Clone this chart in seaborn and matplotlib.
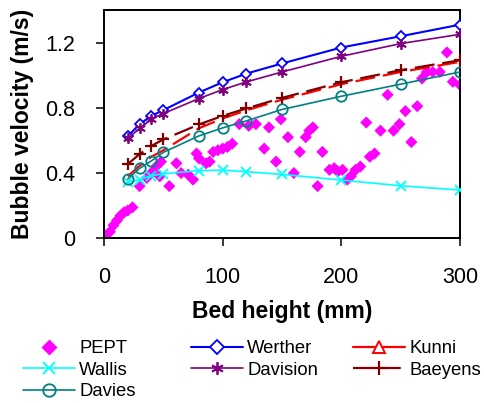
import matplotlib
matplotlib.use("Agg")
import matplotlib.pyplot as plt
from matplotlib.lines import Line2D
import seaborn as sns
import pandas as pd

# Bed heights (mm) at which the correlations are evaluated
heights = [20, 30, 40, 50, 80, 100, 120, 150, 200, 250, 300]

# Bubble rise velocity (m/s) from each correlation
werther = [0.626, 0.700, 0.751, 0.786, 0.894, 0.957, 1.010, 1.072, 1.170, 1.239, 1.310]
davision = [0.612, 0.674, 0.731, 0.765, 0.857, 0.912, 0.959, 1.020, 1.116, 1.194, 1.251]
baeyens = [0.455, 0.516, 0.567, 0.606, 0.698, 0.751, 0.796, 0.861, 0.957, 1.031, 1.092]
kunni = [0.380, 0.445, 0.500, 0.540, 0.675, 0.735, 0.785, 0.850, 0.945, 1.020, 1.082]
davies = [0.363, 0.429, 0.475, 0.527, 0.628, 0.677, 0.720, 0.790, 0.871, 0.945, 1.020]
wallis = [0.345, 0.360, 0.385, 0.395, 0.415, 0.418, 0.408, 0.392, 0.357, 0.322, 0.296]

# PEPT measurements
pept_h = [2, 5, 8, 11, 14, 17, 20, 24,
          30, 36, 41, 44, 47, 48, 55, 61, 65, 71, 75, 78, 80, 86, 89,
          92, 96, 100, 104, 108, 114, 122, 128, 135, 139, 145, 149, 155,
          160, 165, 170, 173, 176, 180, 184, 190, 194, 197, 201, 205, 208,
          212, 216, 221, 224, 228, 233, 239, 244, 249, 254, 259, 264, 268,
          272, 277, 283, 289, 294, 300]
pept_v = [0.02, 0.04, 0.08, 0.11, 0.14, 0.16, 0.17, 0.19,
          0.32, 0.37, 0.41, 0.44, 0.38, 0.47, 0.32, 0.46, 0.40, 0.39, 0.36, 0.52, 0.49, 0.46, 0.47,
          0.53, 0.54, 0.55, 0.56, 0.58, 0.70, 0.69, 0.70, 0.55, 0.68, 0.47, 0.73, 0.62,
          0.40, 0.53, 0.62, 0.66, 0.68, 0.32, 0.53, 0.42, 0.43, 0.41, 0.42, 0.36, 0.38,
          0.42, 0.44, 0.71, 0.50, 0.52, 0.66, 0.88, 0.66, 0.70, 0.78, 0.59, 0.81, 0.98,
          1.02, 1.02, 1.02, 1.14, 0.96, 0.94]

x_ticks = [0, 100, 200, 300]
y_ticks = [0, 0.4, 0.8, 1.2]
y_tick_labels = ["0", "0.4", "0.8", "1.2"]

sns.set_style("ticks")
plt.rcParams["font.family"] = ["Liberation Sans", "DejaVu Sans"]
plt.rcParams["text.color"] = "black"
plt.rcParams["axes.labelcolor"] = "black"

DASH = (0, (9, 3.5))

styles = {
    "Kunni": dict(color="#FF0000", marker="^", ms=7.5, mfc="white", mec="#FF0000", mew=1.4, lw=1.6, ls="-"),
    "Werther": dict(color="#0000FF", marker="D", ms=5.2, mfc="white", mec="#0000FF", mew=1.3, lw=1.5, ls="-"),
    "Wallis": dict(color="#00FFFF", marker="x", ms=7, mfc="#00FFFF", mec="#00FFFF", mew=1.3, lw=1.2, ls="-"),
    "Davision": dict(color="#800080", marker=(6, 2, 0), ms=7.5, mfc="#800080", mec="#800080", mew=1.3, lw=1.2, ls="-"),
    "Baeyens": dict(color="#800000", marker="+", ms=8, mfc="#800000", mec="#800000", mew=1.6, lw=1.6, ls=DASH),
    "Davies": dict(color="#008080", marker="o", ms=7.5, mfc="none", mec="#008080", mew=1.3, lw=1.2, ls="-"),
}
series = {
    "Kunni": kunni, "Werther": werther, "Wallis": wallis,
    "Davision": davision, "Baeyens": baeyens, "Davies": davies,
}

fig = plt.figure(figsize=(4.84, 4.03), dpi=100)
ax = fig.add_axes([0.2149, 0.4087, 0.7355, 0.5665])

pept = pd.DataFrame({"h": pept_h, "v": pept_v})
sns.scatterplot(data=pept, x="h", y="v", marker="D", s=38, color="#FF00FF",
                edgecolor="none", ax=ax, legend=False, zorder=2)

for name, vals in series.items():
    st = styles[name]
    df = pd.DataFrame({"h": heights, "v": vals})
    if name == "Kunni":
        # drawn as a plain dashed curve; the triangle only appears in the key
        sns.lineplot(data=df, x="h", y="v", ax=ax, legend=False, color=st["color"],
                     lw=st["lw"], linestyle=DASH, zorder=3)
    else:
        sns.lineplot(data=df, x="h", y="v", ax=ax, legend=False, color=st["color"],
                     lw=st["lw"], linestyle=st["ls"], marker=st["marker"],
                     markersize=st["ms"], markerfacecolor=st["mfc"],
                     markeredgecolor=st["mec"], markeredgewidth=st["mew"], zorder=4)

ax.set_xlim(0, 300)
ax.set_ylim(0, 1.4)
ax.set_xticks(x_ticks)
ax.set_yticks(y_ticks)
ax.set_yticklabels(y_tick_labels)
ax.tick_params(axis="both", direction="out", length=5.5, width=1.1, colors="black",
               labelsize=15.5)
ax.tick_params(axis="x", pad=15)
ax.tick_params(axis="y", pad=15)
for sp in ax.spines.values():
    sp.set_visible(True)
    sp.set_linewidth(1.4)
    sp.set_color("black")

ax.set_xlabel("Bed height (mm)", fontsize=16.5, fontweight="bold", labelpad=9)
ax.set_ylabel("Bubble velocity (m/s)", fontsize=16.5, fontweight="bold", labelpad=8)


def proxy(name):
    st = styles[name]
    return Line2D([], [], color=st["color"], lw=st["lw"], linestyle=st["ls"],
                  marker=st["marker"], markersize=st["ms"] + 1.5,
                  markerfacecolor=st["mfc"], markeredgecolor=st["mec"],
                  markeredgewidth=st["mew"])


pept_handle = Line2D([], [], linestyle="none", marker="D", markersize=8,
                     markerfacecolor="#FF00FF", markeredgecolor="none")

columns = [
    ([pept_handle, proxy("Wallis"), proxy("Davies")], ["PEPT", "Wallis", "Davies"], 23),
    ([proxy("Werther"), proxy("Davision")], ["Werther", "Davision"], 191),
    ([proxy("Kunni"), proxy("Baeyens")], ["Kunni", "Baeyens"], 353),
]
for handles, labels, x0 in columns:
    fig.legend(handles, labels, loc="upper left",
               bbox_to_anchor=(x0 / 484, 1 - 340 / 403),
               frameon=False, fontsize=13.3, handlelength=2.8, handletextpad=0.25,
               labelspacing=0.25, borderpad=0, borderaxespad=0)

fig.savefig("out.png", dpi=100)
